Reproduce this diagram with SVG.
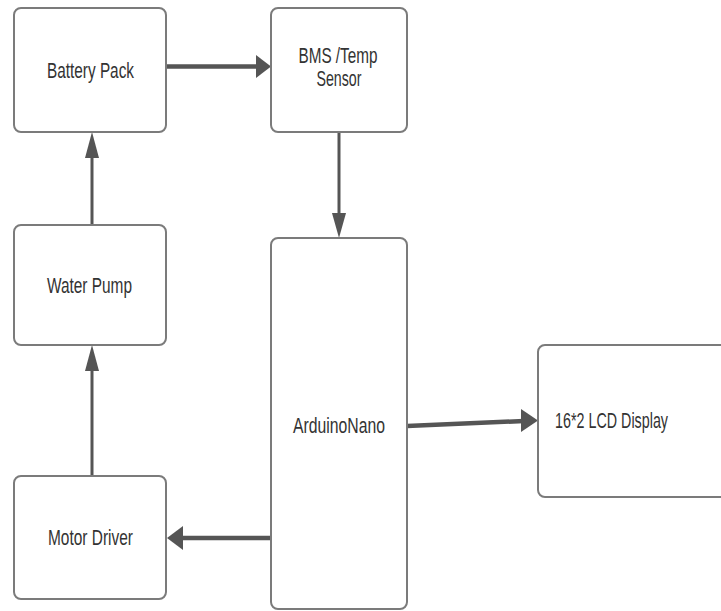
<svg xmlns="http://www.w3.org/2000/svg" width="721" height="611" viewBox="0 0 721 611">
<style>
.box{fill:#fff;stroke:#7b7b7b;stroke-width:2}
.lbl{font-family:"Liberation Sans",Arial,sans-serif;font-size:22px;fill:#333;text-anchor:middle}
.ln{stroke:#555;fill:none}
.hd{fill:#555;stroke:none}
</style>
<rect width="721" height="611" fill="#fff"/>
<g id="connectors">
<line class="ln" x1="167" y1="66.5" x2="258" y2="66.5" stroke-width="4.5"/>
<polygon class="hd" points="256,55 271,66.5 256,78"/>
<line class="ln" x1="339" y1="132" x2="339" y2="215" stroke-width="3"/>
<polygon class="hd" points="332,213 346,213 339,238"/>
<line class="ln" x1="92" y1="476" x2="92" y2="368" stroke-width="3"/>
<polygon class="hd" points="85,371 99,371 92,345"/>
<line class="ln" x1="92" y1="225" x2="92" y2="155" stroke-width="3"/>
<polygon class="hd" points="85,158 99,158 92,132"/>
<line class="ln" x1="407" y1="426" x2="524" y2="421" stroke-width="4.5"/>
<polygon class="hd" points="521,409 538,420.5 521,432"/>
<line class="ln" x1="271" y1="538" x2="181" y2="538" stroke-width="4.5"/>
<polygon class="hd" points="183,526 167,538 183,550"/>
</g>
<g id="battery-pack">
<rect class="box" x="14" y="8" width="152" height="124" rx="7"/>
<text class="lbl" x="90.5" y="78" textLength="87" lengthAdjust="spacingAndGlyphs">Battery Pack</text>
</g>
<g id="bms">
<rect class="box" x="271" y="8" width="136" height="124" rx="7"/>
<text class="lbl" x="338" y="63" font-size="21" textLength="79" lengthAdjust="spacingAndGlyphs">BMS /Temp</text>
<text class="lbl" x="339" y="86" font-size="21" textLength="45" lengthAdjust="spacingAndGlyphs">Sensor</text>
</g>
<g id="water-pump">
<rect class="box" x="14" y="225" width="152" height="120" rx="7"/>
<text class="lbl" x="89.5" y="293" textLength="85" lengthAdjust="spacingAndGlyphs">Water Pump</text>
</g>
<g id="arduino-nano">
<rect class="box" x="271" y="238" width="136" height="371" rx="7"/>
<text class="lbl" x="339" y="433" textLength="92" lengthAdjust="spacingAndGlyphs">ArduinoNano</text>
</g>
<g id="lcd-display">
<rect class="box" x="538" y="345" width="200" height="152" rx="7"/>
<text class="lbl" x="611.5" y="428" textLength="113" lengthAdjust="spacingAndGlyphs">16*2 LCD Display</text>
</g>
<g id="motor-driver">
<rect class="box" x="14" y="476" width="152" height="123" rx="7"/>
<text class="lbl" x="90.5" y="545" textLength="85" lengthAdjust="spacingAndGlyphs">Motor Driver</text>
</g>
</svg>
